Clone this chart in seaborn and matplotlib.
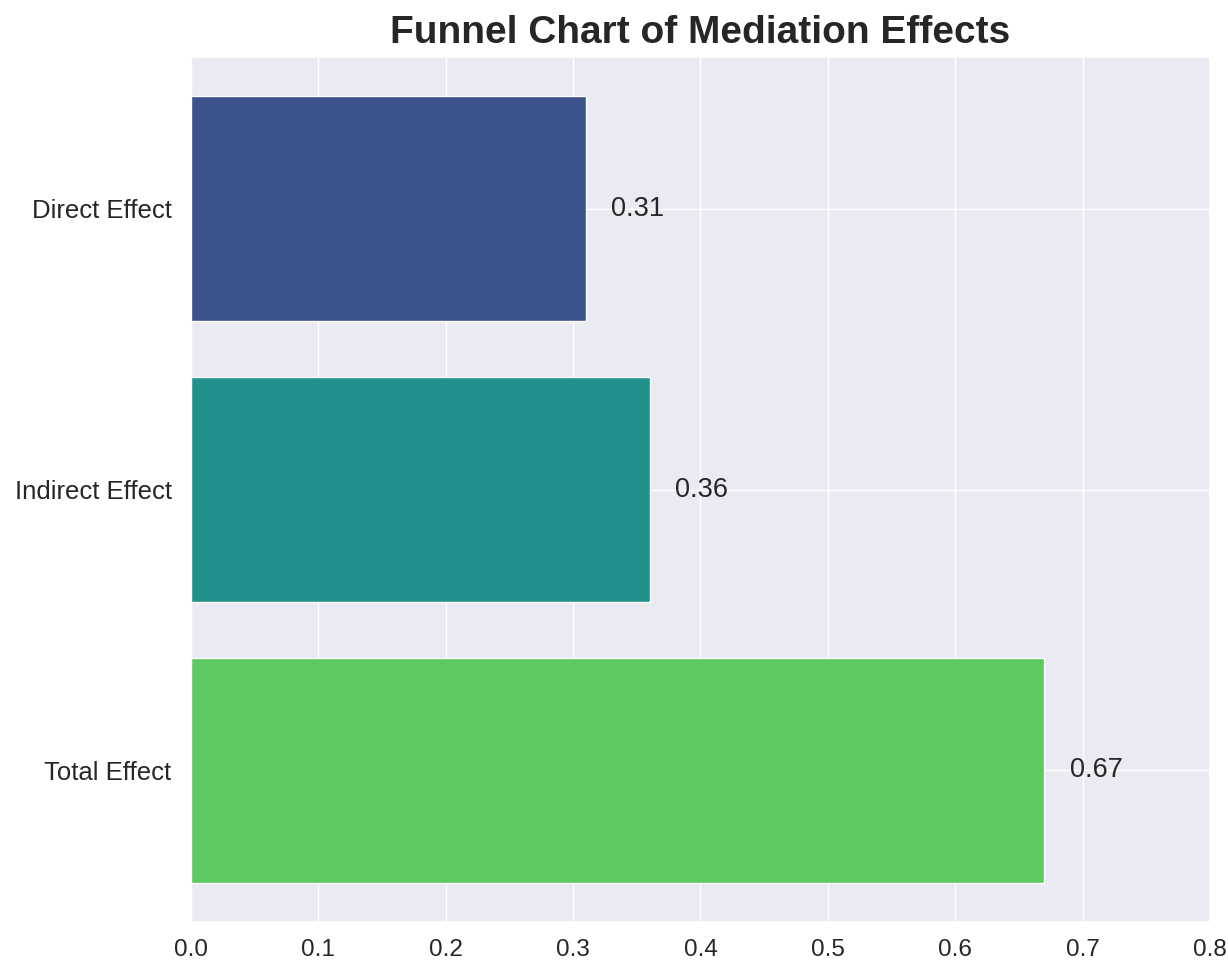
import matplotlib
matplotlib.use("Agg")
import matplotlib.pyplot as plt
from matplotlib import font_manager
import seaborn as sns
import pandas as pd

# Mediation effect estimates
effects = ["Direct Effect", "Indirect Effect", "Total Effect"]
values = [0.31, 0.36, 0.67]

sns.set_theme(style="darkgrid")
plt.rcParams["font.family"] = ["Liberation Sans", "DejaVu Sans"]

# pick the regular-width bold face explicitly for the title
bold_path = None
for f in font_manager.fontManager.ttflist:
    if (f.name == "Liberation Sans" and "narrow" not in f.fname.lower()
            and f.weight in ("bold", 700) and f.style == "normal"):
        bold_path = f.fname
        break
title_font = (font_manager.FontProperties(fname=bold_path, size=28)
              if bold_path else
              font_manager.FontProperties(family="Liberation Sans",
                                          weight="bold", size=28))

df = pd.DataFrame({"Effect": effects, "Value": values})
colors = sns.color_palette("viridis", len(effects))

fig, ax = plt.subplots(figsize=(12.28, 9.67), dpi=100)
fig.subplots_adjust(left=0.1555, right=0.9853, top=0.941, bottom=0.0465)

sns.barplot(data=df, x="Value", y="Effect", hue="Effect", palette=colors,
            orient="h", width=0.8, legend=False, ax=ax, saturation=1)

for i, v in enumerate(values):
    ax.text(v + 0.02, i, f"{v:.2f}", va="center", ha="left",
            fontsize=19.5, color="#262626")

ax.set_xlim(0, 0.8)
ax.set_ylim(len(effects) - 1 + 0.54, -0.54)
ax.yaxis.grid(True)
ax.set_axisbelow(True)
ax.set_xlabel("")
ax.set_ylabel("")
ax.tick_params(axis="x", labelsize=17.5, pad=6)
ax.tick_params(axis="y", labelsize=18.5, pad=8)
ax.set_title("Funnel Chart of Mediation Effects", fontproperties=title_font,
             color="#262626", pad=10)

fig.savefig("out.png", dpi=100)
